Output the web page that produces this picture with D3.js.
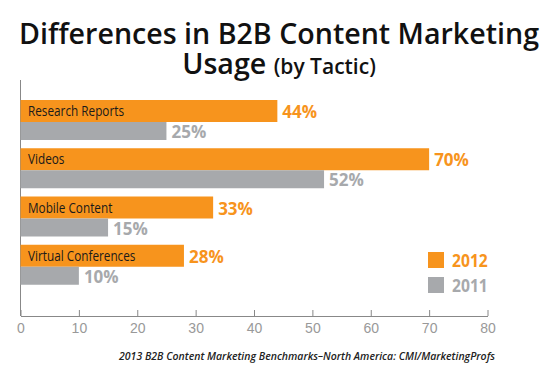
<!DOCTYPE html>
<html>
<head>
<meta charset="utf-8">
<script src="https://cdn.jsdelivr.net/npm/d3@7"></script>
<style>
  body { margin: 0; background: #fff; }
  svg { display: block; font-family: 'Open Sans', sans-serif; }
</style>
</head>
<body>
<div id="chart"></div>
<script>
const categories = ['Research Reports', 'Videos', 'Mobile Content', 'Virtual Conferences'];
const values2012 = [44, 70, 33, 28];
const values2011 = [25, 52, 15, 10];
const seriesNames = ['2012', '2011'];
const tickValues = [0, 10, 20, 30, 40, 50, 60, 70, 80];

const width = 558, height = 387;
const orange = '#F7941D', grey = '#A7A9AC';

const svg = d3.select('#chart').append('svg')
  .attr('width', width)
  .attr('height', height);

// squeeze a text horizontally (the original uses a condensed face)
function condense(sel, k) {
  sel.each(function () {
    const w = this.getComputedTextLength();
    d3.select(this).attr('textLength', w * k).attr('lengthAdjust', 'spacingAndGlyphs');
  });
}

/* ----------title------------*/
svg.append('text')
  .attr('x', 279).attr('y', 44)
  .attr('text-anchor', 'middle')
  .attr('fill', '#111')
  .style('font-size', '28.6px').style('font-weight', 600)
  .text('Differences in B2B Content Marketing');

const t2 = svg.append('text')
  .attr('x', 279).attr('y', 74)
  .attr('text-anchor', 'middle')
  .attr('fill', '#111')
  .style('font-weight', 600);
t2.append('tspan').style('font-size', '28.6px').text('Usage ');
t2.append('tspan').style('font-size', '21px').text('(by Tactic)');

/* ----------scales------------*/
const x = d3.scaleLinear().domain([0, 80]).range([20.5, 487.5]);
const y = d3.scaleBand().domain(categories).range([100, 293]).paddingInner(0).paddingOuter(0);

const axisY = 316;

// left axis line
svg.append('line')
  .attr('x1', 20.5).attr('x2', 20.5)
  .attr('y1', 80).attr('y2', axisY)
  .attr('stroke', '#888').attr('stroke-width', 1);

/* ----------bars------------*/
const g = svg.append('g');
const orangeH = 22, greyH = 18;

const rows = categories.map((c, i) => ({ cat: c, v12: values2012[i], v11: values2011[i] }));

const row = g.selectAll('g.row').data(rows).enter().append('g').attr('class', 'row');

row.append('rect')
  .attr('x', x(0)).attr('y', d => y(d.cat))
  .attr('width', d => x(d.v12) - x(0)).attr('height', orangeH)
  .attr('fill', orange);

row.append('rect')
  .attr('x', x(0)).attr('y', d => y(d.cat) + orangeH)
  .attr('width', d => x(d.v11) - x(0)).attr('height', greyH)
  .attr('fill', grey);

row.append('text')
  .attr('x', 28).attr('y', d => y(d.cat) + 16)
  .attr('fill', '#1a1a1a')
  .style('font-size', '14px')
  .text(d => d.cat)
  .call(condense, 0.84);

row.append('text')
  .attr('x', d => x(d.v12) + 5).attr('y', d => y(d.cat) + 18)
  .attr('fill', orange)
  .style('font-size', '17px').style('font-weight', 700)
  .text(d => d.v12 + '%');

row.append('text')
  .attr('x', d => x(d.v11) + 5).attr('y', d => y(d.cat) + orangeH + 16)
  .attr('fill', grey)
  .style('font-size', '17px').style('font-weight', 700)
  .text(d => d.v11 + '%');

/* ----------x axis------------*/
const xAxis = d3.axisTop(x).tickValues(tickValues).tickSize(6).tickSizeOuter(0).tickFormat(d3.format('d'));
const ax = svg.append('g').attr('transform', 'translate(0,' + axisY + ')').call(xAxis);
ax.select('.domain').attr('stroke', '#888');
ax.selectAll('.tick line').attr('stroke', '#888');
ax.selectAll('.tick text').remove();
ax.selectAll('.tick').append('text')
  .attr('y', 17)
  .attr('text-anchor', 'middle')
  .attr('fill', '#999')
  .style('font-size', '14px')
  .text(d => d);

/* ----------legend------------*/
const legendColors = [orange, grey];
const lg = svg.append('g').selectAll('g').data(seriesNames).enter().append('g')
  .attr('transform', (d, i) => 'translate(428,' + (252 + i * 25) + ')');
lg.append('rect').attr('width', 16).attr('height', 16).attr('fill', (d, i) => legendColors[i]);
lg.append('text')
  .attr('x', 24).attr('y', 15)
  .attr('fill', (d, i) => legendColors[i])
  .style('font-size', '17px').style('font-weight', 700)
  .text(d => d)
  .call(condense, 0.92);

/* ----------source------------*/
svg.append('text')
  .attr('x', 495).attr('y', 360)
  .attr('text-anchor', 'end')
  .attr('fill', '#222')
  .style('font-size', '10.5px').style('font-style', 'italic').style('font-weight', 600)
  .text('2013 B2B Content Marketing Benchmarks\u2013North America: CMI/MarketingProfs');
</script>
</body>
</html>
